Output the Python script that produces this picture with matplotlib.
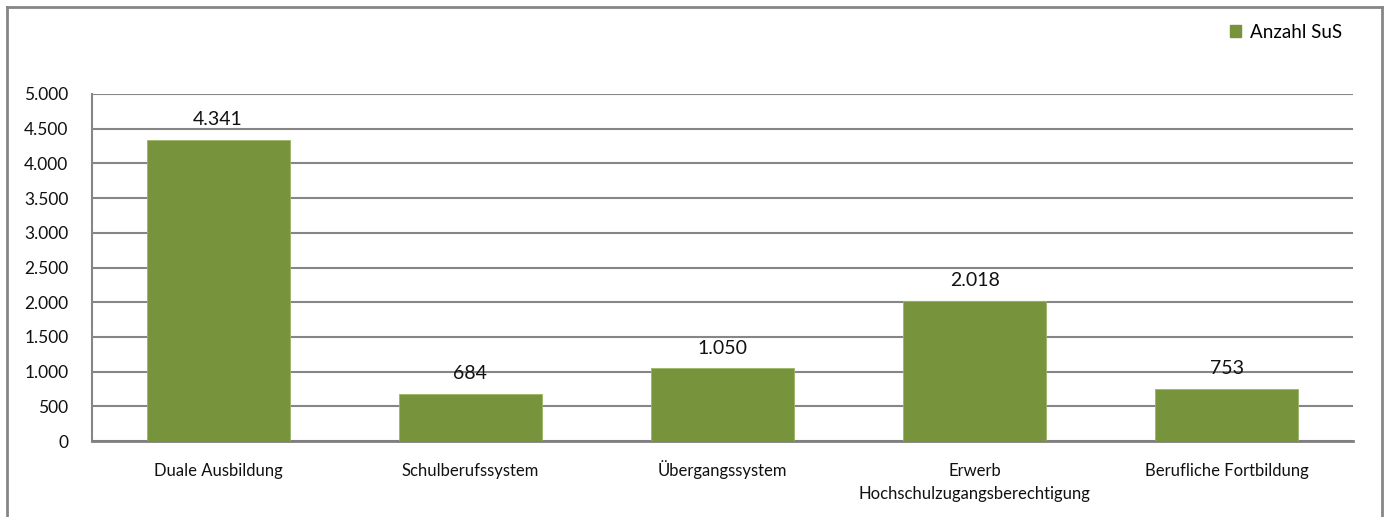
"""
Anzahl SuS nach Bildungsbereich - Excel-style column chart
"""
import matplotlib.pyplot as plt
import matplotlib.transforms as mtransforms
from matplotlib.lines import Line2D
from matplotlib.patches import Patch

# Data
categories = ['Duale Ausbildung', 'Schulberufssystem', 'Übergangssystem',
              'Erwerb\nHochschulzugangsberechtigung', 'Berufliche Fortbildung']
values = [4341, 684, 1050, 2018, 753]
yticks = [0, 500, 1000, 1500, 2000, 2500, 3000, 3500, 4000, 4500, 5000]
series_name = 'Anzahl SuS'

BAR_COLOR = '#77933C'
GRID_COLOR = '#868686'


def de_fmt(v):
    """German thousands separator"""
    return f"{v:,.0f}".replace(',', '.')


plt.rcParams['font.family'] = ['Lato', 'DejaVu Sans']

fig = plt.figure(figsize=(13.87, 5.17), dpi=100)
ax = fig.add_axes([92 / 1387, 1 - 441 / 517, (1353 - 92) / 1387, (441 - 94) / 517])

x = range(len(categories))
bars = ax.bar(x, values, width=0.567, color=BAR_COLOR, edgecolor='#9BB565',
              linewidth=0.6, zorder=3, label=series_name)

for b, v in zip(bars, values):
    ax.text(b.get_x() + b.get_width() / 2, v + 165, de_fmt(v),
            ha='center', va='bottom', fontsize=14, color='#111111', zorder=4)

ax.set_xlim(-0.5, len(categories) - 0.5)
ax.set_ylim(0, 5000)
ax.set_yticks(yticks)
ax.set_yticklabels([de_fmt(t) for t in yticks], fontsize=12.5)
ax.set_xticks(list(x))
ax.set_xticklabels(categories, fontsize=12, linespacing=1.55)
ax.tick_params(axis='both', length=0, colors='#111111')
ax.tick_params(axis='y', pad=17)
ax.tick_params(axis='x', pad=25)
# align on baseline so the umlaut does not push its label down;
# two-line label aligns on its last line, so move it down one line
for lbl in ax.get_xticklabels():
    lbl.set_verticalalignment('baseline')
    n_extra = lbl.get_text().count('\n')
    if n_extra:
        shift = mtransforms.ScaledTranslation(0, -0.23 * n_extra, fig.dpi_scale_trans)
        lbl.set_transform(lbl.get_transform() + shift)

ax.grid(axis='y', color=GRID_COLOR, linewidth=1.5, zorder=0)
for side in ['top', 'right']:
    ax.spines[side].set_visible(False)
ax.spines['left'].set_color(GRID_COLOR)
ax.spines['left'].set_linewidth(1.5)
ax.spines['bottom'].set_color('#7F7F7F')
ax.spines['bottom'].set_linewidth(2)

# Legend top right
fig.legend(handles=[Patch(facecolor=BAR_COLOR, edgecolor=BAR_COLOR, label=series_name)],
           loc='center left', bbox_to_anchor=(1222 / 1387, 1 - 32 / 517),
           frameon=False, fontsize=13.5, handlelength=0.6, handleheight=0.6,
           handletextpad=0.5, borderaxespad=0)

# Outer chart border (bottom edge cut off)
bx0, bx1, by1 = 6.5 / 1387, 1382 / 1387, 1 - 6.5 / 517
for xs, ys in [([bx0, bx1], [by1, by1]), ([bx0, bx0], [by1, -0.01]), ([bx1, bx1], [by1, -0.01])]:
    fig.add_artist(Line2D(xs, ys, transform=fig.transFigure, color='#868686', linewidth=2))

plt.savefig('out.png', dpi=100)
plt.close()
